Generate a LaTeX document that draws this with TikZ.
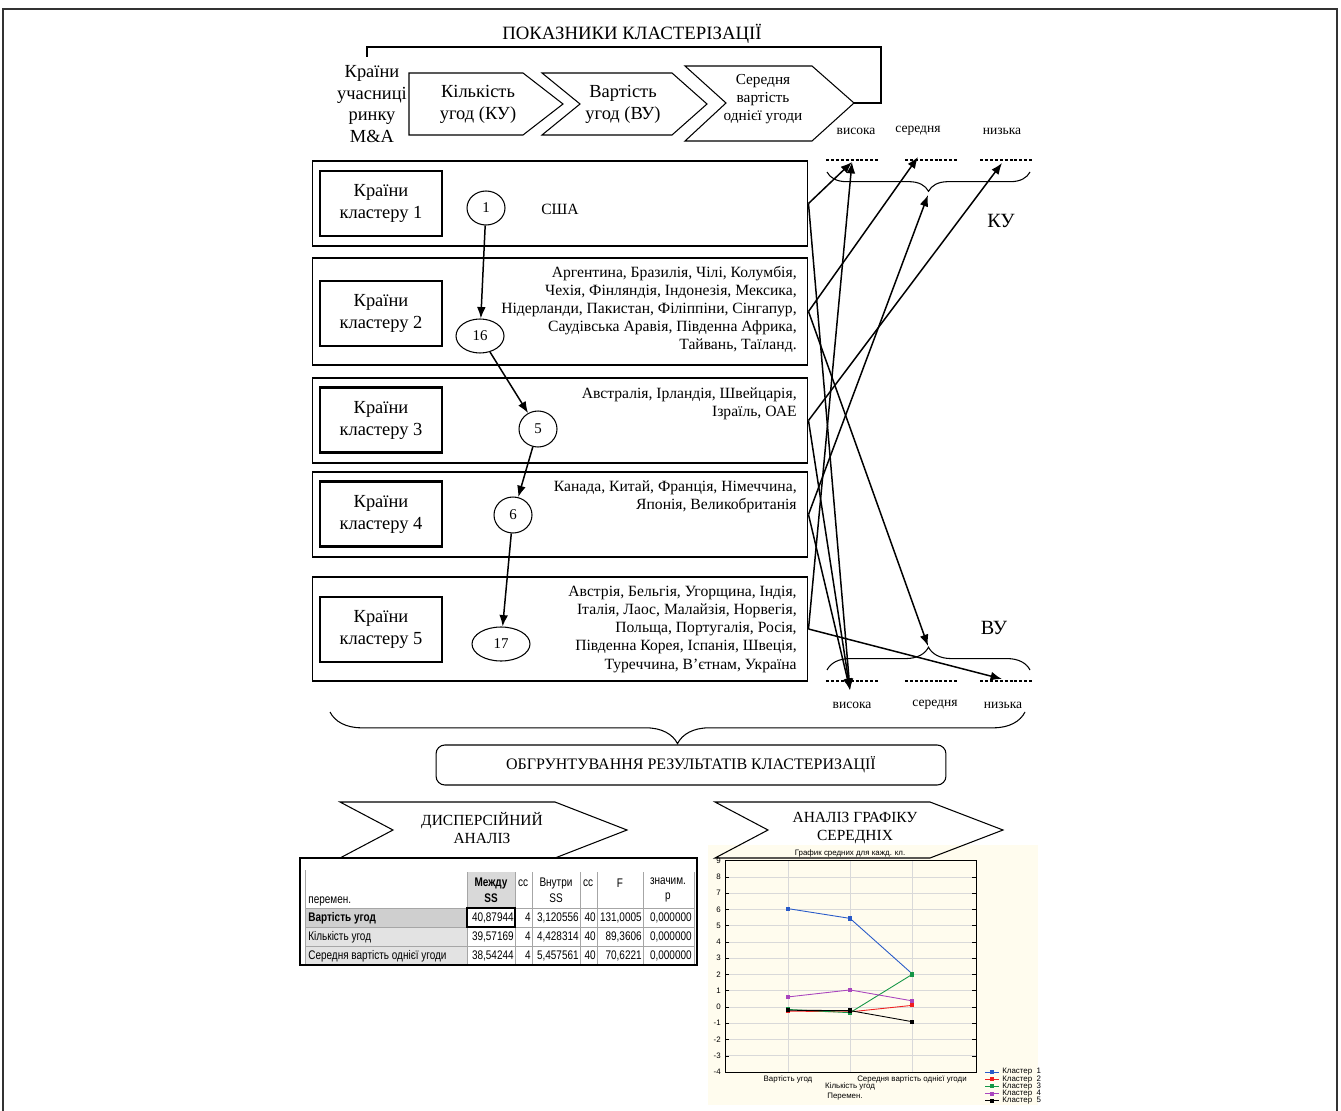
\documentclass[tikz,border=0pt]{standalone}
\usepackage{fontspec}
\setmainfont{Liberation Serif}
\setsansfont{Liberation Sans}
\newfontfamily\tabfont[FakeStretch=0.8]{Liberation Sans}
\usetikzlibrary{arrows.meta,decorations.pathreplacing,shapes.geometric}

\definecolor{cream}{RGB}{255,252,238}
\definecolor{kl1}{RGB}{40,90,200}
\definecolor{kl2}{RGB}{240,30,30}
\definecolor{kl3}{RGB}{20,150,70}
\definecolor{kl4}{RGB}{170,70,190}
\definecolor{kl5}{RGB}{0,0,0}
\newcommand{\fsz}[2]{\fontsize{#1}{#2}\selectfont}

\begin{document}
\begin{tikzpicture}[x=0.02cm,y=-0.02cm,
    every node/.style={inner sep=0pt},
    cbox/.style={draw,line width=0.6pt,minimum width=9.92cm},
    kbox/.style={draw,line width=1.2pt,minimum width=2.44cm,minimum height=1.3cm,align=center,font=\fsz{10.5}{12.5}},
    num/.style={draw,ellipse,line width=0.6pt,font=\fsz{8.5}{9}},
    lst/.style={align=right,anchor=north east,font=\fsz{8.9}{10.3}},
    lvl/.style={font=\fsz{7.7}{8}},
    dline/.style={line width=1.3pt,dash pattern=on 1.7pt off 1.1pt},
    arr/.style={-{Latex[length=6.5pt,width=5pt]},line width=0.85pt},
    brc/.style={decorate,line width=0.6pt},
    tiny/.style={font=\sffamily\fsz{4.5}{5}},
    cell/.style={font=\tabfont\fsz{7.1}{7.6}}]

  \useasboundingbox (0,0) rectangle (1341,1111);
  \draw[line width=1.6pt,black!80] (3,9) rectangle (1337,1130);

  \node[font=\fsz{10.7}{11}] (title) at (632,34) {ПОКАЗНИКИ КЛАСТЕРІЗАЦІЇ};
  \node[align=center,font=\fsz{10.5}{12.2}] (uch) at (372,104) {Країни\\учасниці\\ринку\\M\&A};

  \draw[line width=0.6pt] (409,73) -- (523,73) -- (563,104) -- (523,135) -- (409,135) -- cycle;
  \draw[line width=0.6pt] (542,73) -- (672,73) -- (707,104) -- (672,135) -- (542,135) -- (580,104) -- cycle;
  \draw[line width=0.6pt] (685,66) -- (812,66) -- (854,103) -- (812,141) -- (685,141) -- (726,103) -- cycle;
  \coordinate (tip3) at (854,103);
  \node[align=center,font=\fsz{10.5}{12.5}] (ku) at (478,104) {Кількість\\угод (КУ)};
  \node[align=center,font=\fsz{10.5}{12.5}] (vu) at (623,104) {Вартість\\угод (ВУ)};
  \node[align=center,font=\fsz{8.7}{10.4}] (sv) at (763,99) {Середня\\вартість\\однієї угоди};
  \draw[line width=1.1pt] (367,57) -- (367,47) -- (881,47) -- (881,103) -- (tip3);

  \node[lvl] (kuhl) at (856,131) {висока};
  \node[lvl] (kuml) at (918,131) {середня};
  \node[lvl] (kull) at (1002,131) {низька};
  \draw[dline] (826,160) -- (880,160);
  \draw[dline] (905,160) -- (958,160);
  \draw[dline] (980,160) -- (1033,160);
  \draw[brc,decoration={brace,amplitude=11pt}] (1030,172) -- (827,172);
  \node[font=\fsz{11.5}{12}] (kul) at (1001,221) {КУ};

  \node[lvl] (vuhl) at (852,705) {висока};
  \node[lvl] (vuml) at (935,705) {середня};
  \node[lvl] (vull) at (1003,705) {низька};
  \draw[dline] (826,681) -- (880,681);
  \draw[dline] (905,681) -- (958,681);
  \draw[dline] (980,681) -- (1033,681);
  \draw[brc,decoration={brace,amplitude=13pt}] (827,670) -- (1030,670);
  \node[font=\fsz{11.5}{12}] (vul) at (994,628) {ВУ};

  \coordinate (kuh) at (852,162);
  \coordinate (kum) at (918,157);
  \coordinate (kulo) at (1002,163);
  \coordinate (kub) at (928,195);
  \coordinate (vub) at (928,646);
  \coordinate (vuh) at (850,690);
  \coordinate (vulo) at (1002,679);

  \node[cbox,minimum height=1.7cm] (c1) at (560,203.5) {};
  \node[cbox,minimum height=2.14cm] (c2) at (560,311.5) {};
  \node[cbox,minimum height=1.7cm] (c3) at (560,420.5) {};
  \node[cbox,minimum height=1.7cm] (c4) at (560,514.5) {};
  \node[cbox,minimum height=2.08cm] (c5) at (560,629) {};

  \node[kbox] (k1) at (381,203.5) {Країни\\кластеру 1};
  \node[kbox] (k2) at (381,313.5) {Країни\\кластеру 2};
  \node[kbox] (k3) at (381,420) {Країни\\кластеру 3};
  \node[kbox] (k4) at (381,514) {Країни\\кластеру 4};
  \node[kbox] (k5) at (381,629.5) {Країни\\кластеру 5};

  \node[font=\fsz{8.9}{10.3}] (usa) at (560,209) {США};
  \node[lst] (l2) at (797,266) {Аргентина, Бразилія, Чілі, Колумбія,\\Чехія, Фінляндія, Індонезія, Мексика,\\Нідерланди, Пакистан, Філіппіни, Сінгапур,\\Саудівська Аравія, Південна Африка,\\Тайвань, Таїланд.};
  \node[lst] (l3) at (797,387) {Австралія, Ірландія, Швейцарія,\\Ізраїль, ОАЕ};
  \node[lst] (l4) at (797,480) {Канада, Китай, Франція, Німеччина,\\Японія, Великобританія};
  \node[lst] (l5) at (797,586) {Австрія, Бельгія, Угорщина, Індія,\\Італія, Лаос, Малайзія, Норвегія,\\Польща, Португалія, Росія,\\Південна Корея, Іспанія, Швеція,\\Туреччина, В’єтнам, Україна};

  \node[num,minimum width=0.76cm,minimum height=0.68cm] (1) at (486,208) {1};
  \node[num,minimum width=0.96cm,minimum height=0.68cm] (16) at (480,336) {16};
  \node[num,minimum width=0.76cm,minimum height=0.72cm] (5) at (538,429) {5};
  \node[num,minimum width=0.76cm,minimum height=0.72cm] (6) at (513,515) {6};
  \node[num,minimum width=1.16cm,minimum height=0.68cm] (17) at (501,644) {17};

  \begin{scope}[every edge/.style={draw,arr}]
    \path (1) edge (16);
    \path (16) edge (5);
    \path (5) edge (6);
    \path (6) edge (17);
    \path (c1.east) edge (kuh);
    \path (c1.east) edge (vuh);
    \path (c2.east) edge (kum);
    \path (c2.east) edge (vub);
    \path (c3.east) edge (kulo);
    \path (c3.east) edge (vuh);
    \path (c4.east) edge (kub);
    \path (c4.east) edge (vuh);
    \path (c5.east) edge (kuh);
    \path (c5.east) edge (vulo);
  \end{scope}

  \draw[brc,decoration={brace,amplitude=18pt}] (1025,712) -- (330,712);
  \node[draw,line width=0.6pt,rounded corners=5pt,minimum width=10.2cm,minimum height=0.8cm,font=\fsz{9.1}{10}] (obg) at (691,765) {ОБГРУНТУВАННЯ РЕЗУЛЬТАТІВ КЛАСТЕРИЗАЦІЇ};

  % chart
  \fill[cream] (708,845) rectangle (1038,1105);
  \node[tiny] (gt) at (850,853) {График средних для кажд. кл.};
  \begin{scope}[shift={(0,1007)},yscale=-16.26]
    \foreach \v in {-4,...,9} {
      \draw[gray!30,line width=0.4pt] (725,\v) -- (976,\v);
      \draw[line width=0.3pt] (725,\v) -- (729,\v) (976,\v) -- (972,\v);
      \node[tiny,anchor=east] at (721,\v) {\v};
    }
    \foreach \x in {788,850,912}
      \draw[gray!30,line width=0.5pt] (\x,-4) -- (\x,9);
    \draw[line width=0.4pt] (725,-4) rectangle (976,9.03);
    \draw[kl1,line width=0.5pt] (788,6.05) -- (850,5.45) -- (912,2.05);
    \draw[kl2,line width=0.5pt] (788,-0.25) -- (850,-0.3) -- (912,0.1);
    \draw[kl3,line width=0.5pt] (788,-0.15) -- (850,-0.35) -- (912,2.0);
    \draw[kl4,line width=0.5pt] (788,0.62) -- (850,1.05) -- (912,0.38);
    \draw[kl5,line width=0.5pt] (788,-0.2) -- (850,-0.22) -- (912,-0.9);
    \foreach \x/\a/\b/\c/\d/\e in {788/6.05/-0.25/-0.15/0.62/-0.2,850/5.45/-0.3/-0.35/1.05/-0.22,912/2.05/0.1/2.0/0.38/-0.9} {
      \node[fill=kl1,minimum size=2.4pt] at (\x,\a) {};
      \node[fill=kl2,minimum size=2.4pt] at (\x,\b) {};
      \node[fill=kl3,minimum size=2.4pt] at (\x,\c) {};
      \node[fill=kl4,minimum size=2.4pt] at (\x,\d) {};
      \node[fill=kl5,minimum size=2.4pt] at (\x,\e) {};
    }
  \end{scope}
  \node[tiny] (xa) at (788,1079) {Вартість угод};
  \node[tiny] (xb) at (850,1086) {Кількість угод};
  \node[tiny] (xc) at (912,1079) {Середня вартість однієї угоди};
  \node[tiny] (xp) at (845,1097) {Перемен.};
  \foreach \n/\c [count=\i from 0] in {1/kl1,2/kl2,3/kl3,4/kl4,5/kl5} {
    \draw[\c,line width=0.5pt] (985,1072+7.2*\i) -- (999,1072+7.2*\i);
    \node[fill=\c,minimum size=2.2pt] at (992,1072+7.2*\i) {};
    \node[tiny,anchor=west] at (1002,1072+7.2*\i) {Кластер \ \n};
  }

  \draw[line width=0.6pt] (340,802) -- (555,802) -- (627,830) -- (555,858) -- (340,858) -- (393,830) -- cycle;
  \draw[line width=0.6pt] (715,802) -- (930,802) -- (1003,830) -- (930,858) -- (715,858) -- (768,830) -- cycle;
  \node[align=center,font=\fsz{8.8}{10.3}] (disp) at (482,828) {ДИСПЕРСІЙНИЙ\\АНАЛІЗ};
  \node[align=center,font=\fsz{8.8}{10.3}] (graf) at (855,828) {АНАЛІЗ ГРАФІКУ\\СЕРЕДНІХ};

  % table
  \fill[white] (300,858) rectangle (697,965);
  \fill[gray!22] (305,927) rectangle (467,964);
  \fill[gray!38] (305,908) rectangle (467,927);
  \fill[gray!30] (467,872) rectangle (515,908);
  \draw[gray!70,line width=0.4pt] (305,908) -- (694,908) (305,927) -- (694,927) (305,946) -- (694,946);
  \foreach \x in {467,515,532,580,597,643,694}
    \draw[gray!70,line width=0.4pt] (\x,872) -- (\x,964);
  \draw[gray!70,line width=0.4pt] (305,870) -- (305,964);
  \draw[line width=1.2pt] (467,908) rectangle (515,927);
  \draw[line width=1.3pt] (300,858) rectangle (697,965);

  \node[cell,anchor=base west] (pm) at (308,903) {перемен.};
  \node[cell,align=center,font=\tabfont\bfseries\fsz{7.1}{9}] (h1) at (491,890) {Между\\SS};
  \node[cell] (h2) at (523,883) {сс};
  \node[cell,align=center,font=\tabfont\fsz{7.1}{9}] (h3) at (556,890) {Внутри\\SS};
  \node[cell] (h4) at (588,883) {сс};
  \node[cell] (h5) at (620,883) {F};
  \node[cell,align=center,font=\tabfont\fsz{7.1}{9}] (h6) at (668,890) {значим.\\p};

  \node[cell,anchor=base west,font=\tabfont\bfseries\fsz{7.1}{7.6}] (r1) at (308,921) {Вартість угод};
  \node[cell,anchor=base west] (r2) at (308,940) {Кількість угод};
  \node[cell,anchor=base west] (r3) at (308,959) {Середня вартість однієї угоди};

  \node[cell,anchor=base east] (a1) at (514,921) {40,87944};
  \node[cell,anchor=base east] (b1) at (531,921) {4};
  \node[cell,anchor=base east] (c1v) at (579,921) {3,120556};
  \node[cell,anchor=base east] (d1) at (596,921) {40};
  \node[cell,anchor=base east] (e1) at (642,921) {131,0005};
  \node[cell,anchor=base east] (f1) at (692,921) {0,000000};

  \node[cell,anchor=base east] (a2) at (514,940) {39,57169};
  \node[cell,anchor=base east] (b2) at (531,940) {4};
  \node[cell,anchor=base east] (c2v) at (579,940) {4,428314};
  \node[cell,anchor=base east] (d2) at (596,940) {40};
  \node[cell,anchor=base east] (e2) at (642,940) {89,3606};
  \node[cell,anchor=base east] (f2) at (692,940) {0,000000};

  \node[cell,anchor=base east] (a3) at (514,959) {38,54244};
  \node[cell,anchor=base east] (b3) at (531,959) {4};
  \node[cell,anchor=base east] (c3v) at (579,959) {5,457561};
  \node[cell,anchor=base east] (d3) at (596,959) {40};
  \node[cell,anchor=base east] (e3) at (642,959) {70,6221};
  \node[cell,anchor=base east] (f3) at (692,959) {0,000000};
\end{tikzpicture}
\end{document}
